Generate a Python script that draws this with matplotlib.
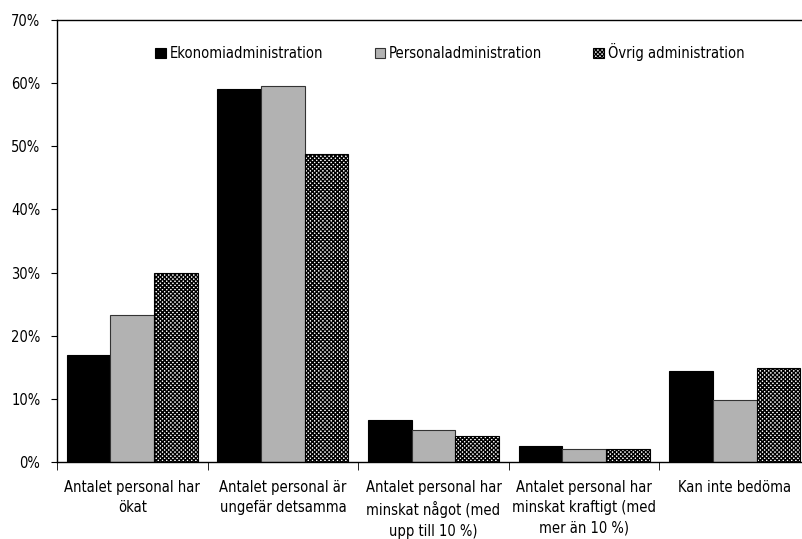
import matplotlib
matplotlib.use("Agg")
import matplotlib.pyplot as plt
import matplotlib.ticker as mticker
from matplotlib import font_manager
import numpy as np

# prefer a narrow face like the original; fall back to DejaVu Sans
narrow = None
for f in font_manager.fontManager.ttflist:
    n = f.name.lower()
    if ("narrow" in n or "condensed" in n) or f.stretch in ("condensed", "semi-condensed", 300):
        if f.style == "normal" and f.weight in (400, "normal", "regular"):
            narrow = f
            break

if narrow is not None:
    plt.rcParams["font.family"] = [narrow.name, "DejaVu Sans"]
    plt.rcParams["font.stretch"] = narrow.stretch
    FS = 10.5
else:
    plt.rcParams["font.family"] = ["DejaVu Sans"]
    FS = 9.5
plt.rcParams["hatch.linewidth"] = 1.0

categories = [
    "Antalet personal har\nökat",
    "Antalet personal är\nungefär detsamma",
    "Antalet personal har\nminskat något (med\nupp till 10 %)",
    "Antalet personal har\nminskat kraftigt (med\nmer än 10 %)",
    "Kan inte bedöma",
]
series_names = ["Ekonomiadministration", "Personaladministration", "Övrig administration"]
ekonomi = [17.0, 59.1, 6.7, 2.5, 14.4]
personal = [23.3, 59.6, 5.1, 2.1, 9.8]
ovrig = [30.0, 48.7, 4.1, 2.1, 14.9]

fig = plt.figure(figsize=(8.02, 5.39), dpi=100)
# plot area runs slightly past the right edge of the image
ax = fig.add_axes([57 / 802, 1 - 462 / 539, (810 - 57) / 802, (462 - 20) / 539])

x = np.arange(len(categories))
w = 0.29
styles = [
    dict(color="black", edgecolor="black"),
    dict(color="#b2b2b2", edgecolor="#333333"),
    dict(color="white", edgecolor="black", hatch="xxxxxxxx"),
]
for i, (vals, name) in enumerate(zip([ekonomi, personal, ovrig], series_names)):
    ax.bar(x + (i - 1) * w, vals, width=w, label=name, linewidth=0.8, **styles[i])

ax.set_xlim(-0.5, len(categories) - 0.5)
ax.set_ylim(0, 70)
ax.yaxis.set_major_locator(mticker.MultipleLocator(10))
ax.yaxis.set_major_formatter(mticker.FuncFormatter(lambda v, _: f"{int(v)}%"))

ax.set_xticks(x)
ax.set_xticklabels(categories, fontsize=FS, linespacing=1.45, va="top")
ax.tick_params(axis="x", which="major", length=0, pad=13)
ax.set_xticks(np.arange(len(categories) + 1) - 0.5, minor=True)
ax.tick_params(axis="x", which="minor", length=6, direction="out")
ax.tick_params(axis="y", length=4, direction="out", labelsize=FS, pad=8)

for s in ["left", "bottom", "top"]:
    ax.spines[s].set_linewidth(1.0)
ax.spines["right"].set_visible(False)

# legend centred near x = 450 px of the image
leg_x = (450 - 57) / (810 - 57)
ax.legend(
    loc="upper center",
    bbox_to_anchor=(leg_x, 0.978),
    ncol=3,
    frameon=False,
    fontsize=FS,
    handlelength=0.7,
    handleheight=0.7,
    handletextpad=0.3,
    columnspacing=3.5 if narrow is not None else 2.0,
)

fig.savefig("out.png", dpi=100)
